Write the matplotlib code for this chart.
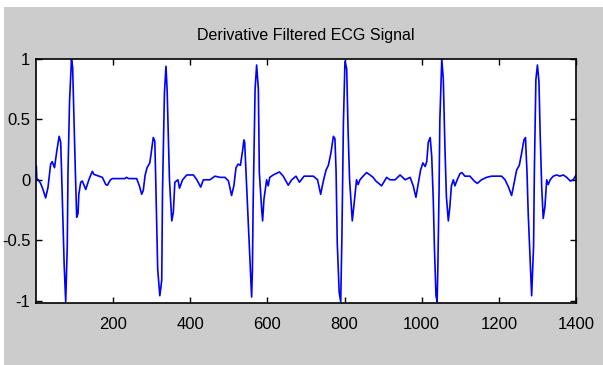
import matplotlib
matplotlib.use('Agg')
import matplotlib.pyplot as plt
from matplotlib.patches import Rectangle

# 采样点序号 (x) 与导数滤波后的幅值 (y)，按心拍分段读取
sample = [1, 2, 6, 12, 18, 25, 31, 38, 42, 48, 54, 60, 64, 66, 73, 77, 81, 83, 87, 92, 95, 98.5,
          102, 105.5, 109, 111, 116, 120, 125, 129, 137, 146, 150, 163, 172, 181, 185, 193, 198,
          230, 235, 240, 261, 268, 274, 278, 283, 288, 295, 299, 304, 308, 310, 315.5, 321, 326,
          328, 333, 337, 340, 346, 352, 356, 360, 368, 372, 380, 391, 408, 417, 427, 434, 451,
          464, 477, 490, 499, 507, 513, 518.5, 524, 530, 536, 539, 541, 546, 551, 556.5, 559,
          561, 563, 568, 572, 576.5, 579, 585, 587.5, 591, 598, 602, 606, 615, 631, 641, 654,
          663, 674, 683, 695, 706, 719, 730, 738, 745, 752, 758, 764.5, 771, 775, 778, 781, 786,
          790, 793, 797, 801, 805.5, 809, 813, 820, 824, 831, 835, 840, 848, 857, 866, 874, 881,
          896, 909, 918, 931, 944, 957, 970, 978, 985, 990, 997, 1003, 1009, 1013, 1017, 1022,
          1026, 1030, 1033, 1037, 1040, 1042, 1045, 1047, 1052, 1056, 1060, 1064, 1069, 1073,
          1077, 1082, 1086, 1092, 1099, 1104, 1112, 1125, 1136, 1144, 1155, 1168, 1181, 1194,
          1207, 1216, 1225, 1233, 1240, 1246, 1253, 1259, 1265, 1269, 1273, 1276, 1281, 1285,
          1290, 1292, 1296, 1300, 1304, 1307, 1311, 1315, 1319.5, 1324, 1328, 1333, 1341, 1350,
          1358, 1367, 1376, 1385, 1393, 1400]
amplitude = [0.11, 0.01, 0.0, -0.03, -0.08, -0.15, -0.065, 0.13, 0.15, 0.10, 0.24, 0.36, 0.31, 0.10,
             -0.70, -1.01, -0.56, 0.07, 0.65, 1.0, 0.93, 0.49,
             0.07, -0.31, -0.28, -0.12, -0.02, -0.01, -0.05, -0.08, 0.0, 0.07, 0.045, 0.03, 0.02,
             -0.04, -0.045, 0.0, 0.01,
             0.01, 0.02, 0.01, 0.01, -0.05, -0.12, -0.09, 0.04, 0.10, 0.14, 0.23, 0.35, 0.32, 0.06,
             -0.74, -0.96, -0.83,
             -0.09, 0.72, 0.94, 0.74, 0.0, -0.34, -0.27, -0.02, 0.0, -0.07, 0.0, 0.04, 0.04, 0.0,
             -0.06, 0.0, 0.0,
             0.03, 0.02, 0.02, -0.01, -0.13, -0.05, 0.10, 0.13, 0.12, 0.25, 0.33, 0.31, -0.05,
             -0.43, -0.81, -0.97,
             -0.76, -0.19, 0.75, 0.95, 0.75, 0.06, -0.24, -0.34, -0.16, 0.0, -0.05, 0.02, 0.04,
             0.065, 0.03, -0.045,
             0.0, 0.03, -0.02, 0.03, 0.03, 0.03, 0.0, -0.12, -0.01, 0.08, 0.12, 0.22, 0.36, 0.34,
             0.07, -0.52, -0.93,
             -1.01, -0.49, 0.47, 0.98, 0.92, 0.42, 0.0, -0.34, -0.22, 0.0, -0.04, 0.0, 0.03, 0.06,
             0.04, 0.02, -0.01,
             -0.05, 0.02, 0.0, 0.0, 0.04, 0.0, 0.02, -0.05, -0.145, -0.05, 0.08, 0.14, 0.11, 0.15,
             0.31, 0.35,
             0.19, -0.17, -0.57, -0.96, -1.01, -0.7, -0.08, 0.49, 1.0, 0.83, 0.29, -0.14, -0.34,
             -0.22,
             -0.05, 0.0, -0.05, 0.0, 0.05, 0.06, 0.03, 0.03, -0.01, -0.03, 0.0, 0.02, 0.03, 0.03,
             0.03, 0.0, -0.06, -0.13, -0.02, 0.08, 0.12, 0.22, 0.33, 0.35, 0.06, -0.27, -0.66,
             -0.96,
             -0.55, 0.06, 0.83, 0.95, 0.81, 0.39, -0.05, -0.32, -0.22, 0.0, -0.04, 0.0, 0.03, 0.04,
             0.03, 0.04, 0.02, -0.01, 0.0, 0.04]

x_ticks = [200, 400, 600, 800, 1000, 1200, 1400]
y_ticks = [-1, -0.5, 0, 0.5, 1]
y_labels = ['-1', '-0.5', '0', '0.5', '1']

# 字体：Arial 风格
plt.rcParams['font.family'] = ['Liberation Sans', 'DejaVu Sans']

fig = plt.figure(figsize=(6.03, 3.65), dpi=100)
fig.patch.set_facecolor('white')
# 灰色背景（左、上留白）
bg = Rectangle((4 / 603, 0), 1, (365 - 7) / 365, transform=fig.transFigure,
               facecolor='#cccccc', edgecolor='none', zorder=-10)
fig.add_artist(bg)

ax = fig.add_axes([36 / 603, 62 / 365, 540 / 603, 244 / 365])
ax.set_zorder(1)
ax.set_facecolor('white')
ax.plot(sample, amplitude, color='#0000ff', linewidth=1.2)

ax.set_xlim(0, 1400)
ax.set_ylim(-1.02, 1.0)
ax.set_xticks(x_ticks)
ax.set_yticks(y_ticks)
ax.set_yticklabels(y_labels)
ax.tick_params(direction='in', length=4, width=1, top=True, right=True,
               labelsize=12, pad=4, colors='black')
ax.tick_params(axis='x', pad=10)
for s in ax.spines.values():
    s.set_linewidth(1.2)
    s.set_color('black')

ax.set_title('Derivative Filtered ECG Signal', fontsize=11.5, pad=14)

fig.savefig('out.png', dpi=100, facecolor=fig.get_facecolor())
